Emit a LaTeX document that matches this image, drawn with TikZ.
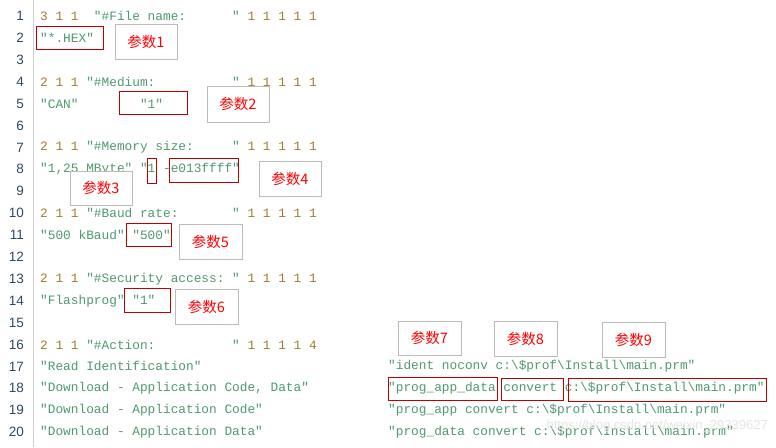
\documentclass[tikz,border=0pt]{standalone}
\usepackage{fontspec}
\setmonofont{Liberation Mono}
\setmainfont{Liberation Sans}
\newfontfamily\cjk{Noto Sans CJK SC}
\definecolor{strc}{HTML}{4E9A6E}
\definecolor{numc}{HTML}{A47C2E}
\definecolor{lnc}{HTML}{2E4A66}
\definecolor{boxr}{HTML}{C00000}
\definecolor{boxg}{HTML}{BBBBBB}
\newcommand\spv{\ \ \ \ \ }
\newcommand\bsl{\textbackslash}
\begin{document}
\begin{tikzpicture}[x=1pt,y=-1pt,
  code/.style={anchor=west,inner sep=0pt,font=\ttfamily\fontsize{12.8}{14}\selectfont},
  lnum/.style={anchor=east,inner sep=0pt,font=\fontsize{13.5}{15}\selectfont,text=lnc},
  rbox/.style={draw=boxr,line width=1pt},
  gbox/.style={draw=boxg,line width=1pt,fill=white,font=\cjk\fontsize{14.5}{16}\selectfont,text=red,inner sep=0pt}]
\useasboundingbox (0,0) rectangle (776,447);
\fill[white] (0,0) rectangle (776,447);
\draw[boxg!70,line width=1pt] (33,0) -- (33,447);
\foreach \n in {1,...,20}{
  \node[lnum] (ln\n) at (24,{16+(\n-1)*21.9}) {\n};
}
\newcommand\Ly[1]{{16+(#1-1)*21.9}}
\node[code] (l1) at (40,\Ly{1}) {\textcolor{numc}{3\ 1\ 1\ \ }\textcolor{strc}{"\#File\ name:\ \ \ \ \ \ "}\textcolor{numc}{\ 1\ 1\ 1\ 1\ 1}};
\node[code] (l2) at (40,\Ly{2}) {\textcolor{strc}{"*.HEX"}};
\node[code] (l4) at (40,\Ly{4}) {\textcolor{numc}{2\ 1\ 1\ }\textcolor{strc}{"\#Medium:\spv\spv"}\textcolor{numc}{\ 1\ 1\ 1\ 1\ 1}};
\node[code] (l5) at (40,\Ly{5}) {\textcolor{strc}{"CAN"\ \ \ \ \ \ \ \ "1"}};
\node[code] (l7) at (40,\Ly{7}) {\textcolor{numc}{2\ 1\ 1\ }\textcolor{strc}{"\#Memory\ size:\spv"}\textcolor{numc}{\ 1\ 1\ 1\ 1\ 1}};
\node[code] (l8) at (40,\Ly{8}) {\textcolor{strc}{"1,25\ MByte"\ "1\ -e013ffff"}};
\node[code] (l10) at (40,\Ly{10}) {\textcolor{numc}{2\ 1\ 1\ }\textcolor{strc}{"\#Baud\ rate:\spv\ \ "}\textcolor{numc}{\ 1\ 1\ 1\ 1\ 1}};
\node[code] (l11) at (40,\Ly{11}) {\textcolor{strc}{"500\ kBaud"\ "500"}};
\node[code] (l13) at (40,\Ly{13}) {\textcolor{numc}{2\ 1\ 1\ }\textcolor{strc}{"\#Security\ access:\ "}\textcolor{numc}{\ 1\ 1\ 1\ 1\ 1}};
\node[code] (l14) at (40,\Ly{14}) {\textcolor{strc}{"Flashprog"\ "1"}};
\node[code] (l16) at (40,\Ly{16}) {\textcolor{numc}{2\ 1\ 1\ }\textcolor{strc}{"\#Action:\spv\spv"}\textcolor{numc}{\ 1\ 1\ 1\ 1\ 4}};
\node[code,text=strc] (l17) at (40,\Ly{17}) {"Read\ Identification"};
\node[code,text=strc] (l18) at (40,\Ly{18}) {"Download\ -\ Application\ Code,\ Data"};
\node[code,text=strc] (l19) at (40,\Ly{19}) {"Download\ -\ Application\ Code"};
\node[code,text=strc] (l20) at (40,\Ly{20}) {"Download\ -\ Application\ Data"};
\node[code,text=strc] (r17) at (388,\Ly{17}) {"ident\ noconv\ c:\bsl\$prof\bsl Install\bsl main.prm"};
\node[code,text=strc] (r18) at (388,\Ly{18}) {"prog\_app\_data\ convert\ c:\bsl\$prof\bsl Install\bsl main.prm"};
\node[code,text=strc] (r19) at (388,\Ly{19}) {"prog\_app\ convert\ c:\bsl\$prof\bsl Install\bsl main.prm"};
\node[code,text=strc] (r20) at (388,\Ly{20}) {"prog\_data\ convert\ c:\bsl\$prof\bsl Install\bsl main.prm"};
\node[anchor=east,inner sep=0pt,text=gray!20,font=\fontsize{13}{15}\selectfont] (wm) at (768,426) {https://blog.csdn.net/weixin\_29339627};
% red boxes
\draw[rbox] (36,26) rectangle (103,49);
\draw[rbox] (119,91) rectangle (187,114);
\draw[rbox] (147,158) rectangle (156,183);
\draw[rbox] (169,158) rectangle (238,182);
\draw[rbox] (126,223) rectangle (171,246);
\draw[rbox] (124,288) rectangle (170,312);
\draw[rbox] (388,377) rectangle (497,400);
\draw[rbox] (501,378) rectangle (563,400);
\draw[rbox] (568,378) rectangle (766,401);
% gray label boxes
\node[gbox,minimum width=62,minimum height=35] (p1) at (146,41.5) {参数1};
\node[gbox,minimum width=62,minimum height=36] (p2) at (238,104) {参数2};
\node[gbox,minimum width=62,minimum height=34] (p3) at (101,188) {参数3};
\node[gbox,minimum width=62,minimum height=35] (p4) at (290,178.5) {参数4};
\node[gbox,minimum width=63,minimum height=35] (p5) at (210.5,241.5) {参数5};
\node[gbox,minimum width=63,minimum height=35] (p6) at (206.5,306.5) {参数6};
\node[gbox,minimum width=63,minimum height=34] (p7) at (429.5,338) {参数7};
\node[gbox,minimum width=63,minimum height=35] (p8) at (525.5,338.5) {参数8};
\node[gbox,minimum width=63,minimum height=35] (p9) at (633.5,339.5) {参数9};
\end{tikzpicture}
\end{document}
